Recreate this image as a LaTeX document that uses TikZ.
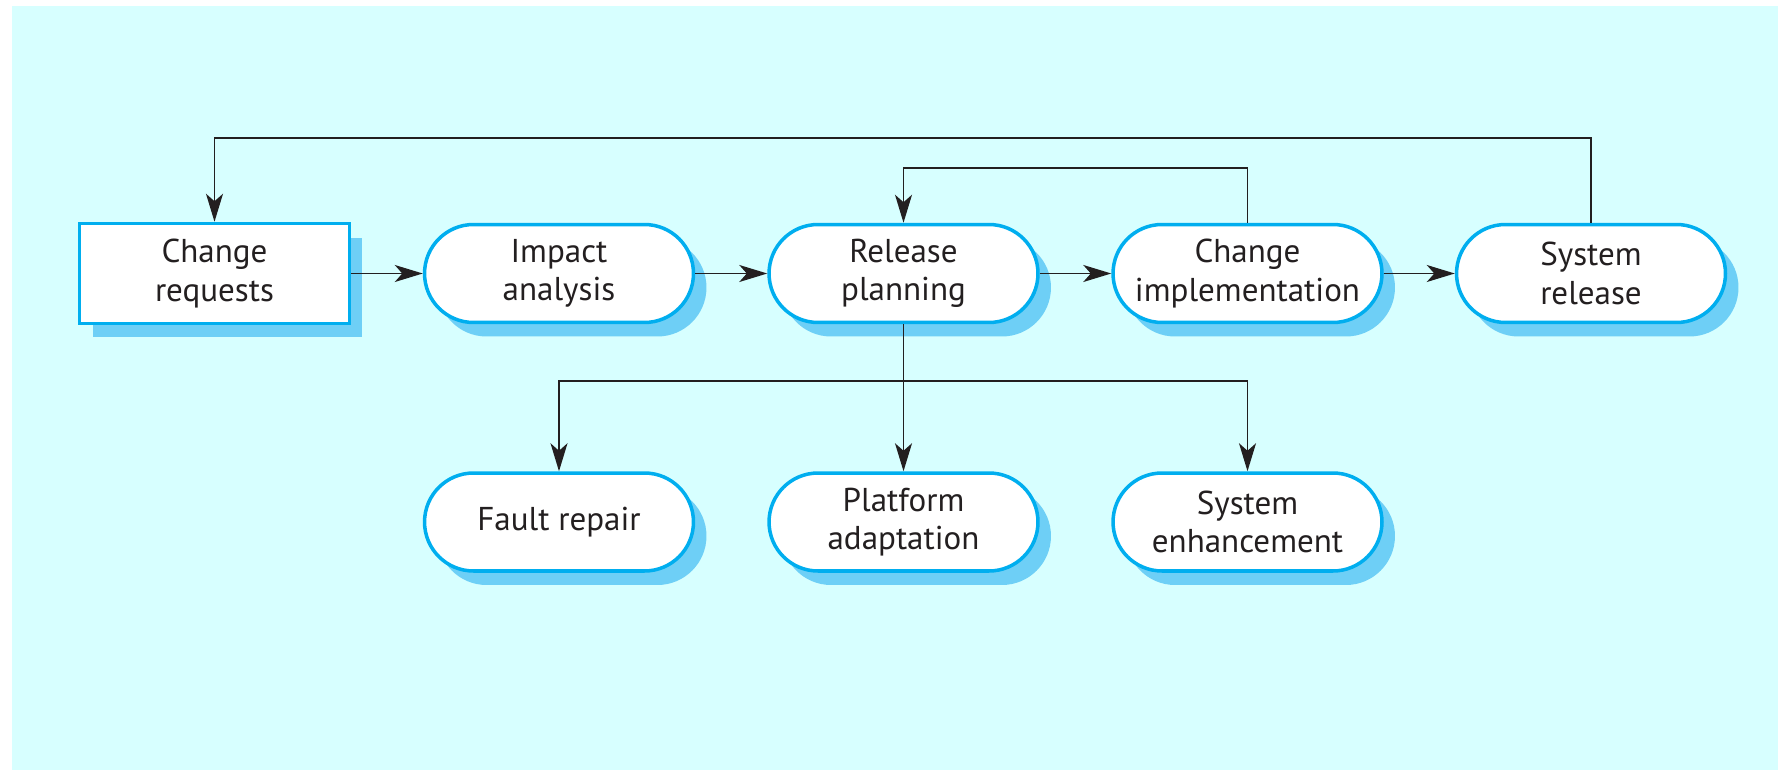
\documentclass[tikz,border=0pt]{standalone}
\usepackage{fontspec}
\setmainfont{PT Sans}
\usetikzlibrary{shapes.misc,shadows,arrows.meta}

\definecolor{bgcyan}{RGB}{215,255,255}
\definecolor{boxline}{RGB}{0,174,239}
\definecolor{boxshadow}{RGB}{110,207,246}
\definecolor{ink}{RGB}{35,31,32}

\begin{document}
\begin{tikzpicture}[x=0.02cm, y=-0.02cm,
  proc/.style={draw=boxline, line width=2pt, fill=white, align=center, text=ink,
    font=\fontsize{18.8}{21.8}\selectfont, inner sep=0pt,
    drop shadow={shadow xshift=0.26cm, shadow yshift=-0.28cm, fill=boxshadow, opacity=1}},
  pill/.style={proc, rounded rectangle, minimum width=5.38cm, minimum height=1.96cm},
  rect/.style={proc, rectangle, minimum width=5.4cm, minimum height=2cm},
  link/.style={->, >={Stealth[length=0.56cm, width=0.34cm, inset=0.15cm]}, line width=0.9pt, draw=ink}]

% background
\useasboundingbox (0,0) rectangle (1778,770);
\fill [bgcyan] (12,6) rectangle (1778,770);

% main process row
\node [rect] (cr) at ( 214.5,273.5) {Change\\requests};
\node [pill] (ia) at ( 559  ,273.5) {Impact\\analysis};
\node [pill] (rp) at ( 903.5,273.5) {Release\\planning};
\node [pill] (ci) at (1247.5,273.5) {Change\\implementation};
\node [pill] (sr) at (1591  ,273.5) {System\\release};

% kinds of change
\node [pill] (fr) at ( 559  ,522) {Fault repair};
\node [pill] (pa) at ( 903.5,522) {Platform\\adaptation};
\node [pill] (se) at (1247.5,522) {System\\enhancement};

% levels of the bent lines
\coordinate (outer)  at (0,138);
\coordinate (inner)  at (0,168);
\coordinate (branch) at (0,381);

% forward arrows
\draw [link] (cr.east) -- (ia.west);
\draw [link] (ia.east) -- (rp.west);
\draw [link] (rp.east) -- (ci.west);
\draw [link] (ci.east) -- (sr.west);

% feedback loops
\draw [link] (sr.north) -- (sr.north |- outer) -| (cr.north);
\draw [link] (ci.north) -- (ci.north |- inner) -| (rp.north);

% branches
\draw [link] (rp.south) -- (pa.north);
\draw [link] (rp.south |- branch) -| (fr.north);
\draw [link] (rp.south |- branch) -| (se.north);

\end{tikzpicture}
\end{document}
